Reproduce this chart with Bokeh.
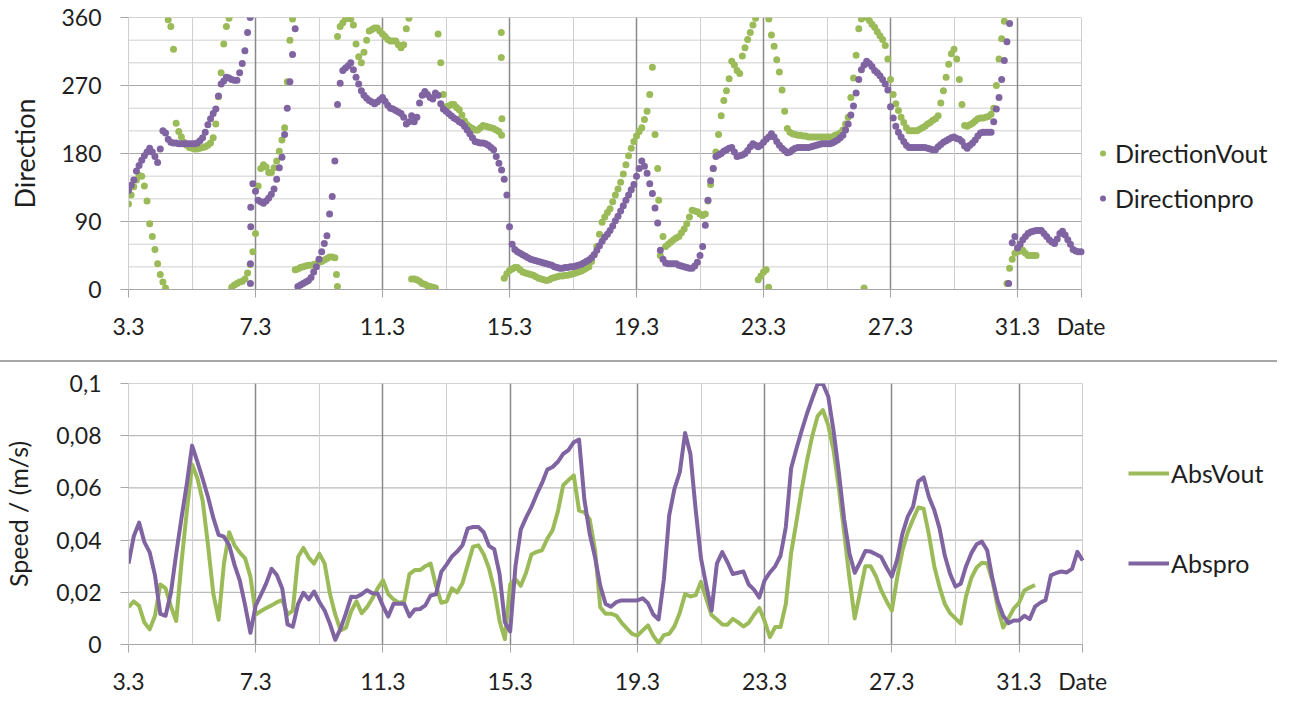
import numpy as np
from bokeh.plotting import figure
from bokeh.models import (Range1d, FixedTicker, CustomJSTickFormatter, Legend,
                          LegendItem, Div)
from bokeh.layouts import column
from bokeh.embed import file_html
from bokeh.resources import INLINE

nan = float("nan")

# ---------------- data ----------------
first_day = 3                      # 3 March
last_day = 33                      # 2 April (right edge of the plotted period)
dir_samples_per_day = 12           # direction readings every 2 h
speed_samples_per_day = 6          # speed readings every 4 h

direction_vout = [
    113, 125, 136, 145, 151, 150, 137, 117, 87, 70, 53, 34,              # 3.3
    20, 10, 2, 357, 348, 318, 220, 209, 202, 195, 191, 188,              # 4.3
    187, 186, 186, 187, 188, 189, 191, 194, 201, 219, 255, 287,          # 5.3
    325, 348, 359, 3, 6, 8, 10, 11, 14, 22, 33, 50,                      # 6.3
    74, 137, 160, 165, 162, 155, 155, 161, 170, 183, 198, 214,           # 7.3
    275, 330, 358, 26, 27, 29, 30, 31, 32, 32, 33, 34,                   # 8.3
    36, 37, 39, 41, 43, 43, 42, 335, 348, 353, 358, 360,                 # 9.3
    358, 350, 325, 308, 300, 314, 330, 342, 344, 346, 346, 342,          # 10.3
    338, 335, 331, 329, 329, 329, 324, 320, 324, 345, 359, 14,           # 11.3
    14, 13, 11, 8, 7, 5, 4, 3, 2, 338, 300, 258,                         # 12.3
    242, 243, 245, 245, 241, 238, 231, 223, 218, 215, 213, 211,          # 13.3
    211, 214, 217, 216, 215, 214, 213, 211, 209, 204, 15, 21,            # 14.3
    25, 27, 29, 29, 26, 23, 22, 21, 20, 19, 17, 15,                      # 15.3
    14, 13, 12, 13, 15, 16, 17, 18, 18, 19, 19, 20,                      # 16.3
    21, 22, 23, 24, 26, 28, 30, 37, 46, 57, 73, 89,                      # 17.3
    96, 102, 107, 116, 125, 133, 142, 153, 165, 177, 187, 196,           # 18.3
    203, 209, 214, 225, 236, 258, 294, 205, 160, 45, 70, 57,             # 19.3
    60, 63, 66, 68, 70, 75, 80, 87, 96, 105, 104, 103,                   # 20.3
    100, 98, 100, 117, 139, 160, 182, 205, 230, 250, 263, 279,           # 21.3
    302, 297, 290, 286, 309, 320, 331, 340, 350, 359, 13, 18,            # 22.3
    23, 26, 358, 337, 322, 304, 288, 264, 236, 213, 208, 206,            # 23.3
    205, 204, 204, 203, 203, 202, 202, 202, 202, 202, 202, 202,          # 24.3
    202, 202, 202, 204, 205, 207, 211, 219, 228, 254, 280, 310,          # 25.3
    345, 358, 2, 360, 356, 351, 347, 341, 336, 331, 323, 305,            # 26.3
    278, 258, 246, 237, 228, 221, 214, 210, 210, 210, 210, 212,          # 27.3
    214, 216, 219, 221, 224, 226, 230, 247, 263, 281, 298, 312,          # 28.3
    318, 305, 278, 245, 217, 216, 218, 220, 223, 226, 227, 227,          # 29.3
    228, 229, 232, 240, 270, 305, 332, 355, 8, 28, 40, 48,               # 30.3
    50, 51, 52, 48, 45, 45, 45, 45, nan, nan, nan, nan,                  # 31.3
    nan, nan, nan, nan, nan, nan, nan, nan, nan, nan, nan, nan,          # 1.4
    nan,                                                                 # 2.4
]

direction_pro = [
    131, 138, 145, 157, 164, 171, 177, 182, 187, 182, 176, 168,          # 3.3
    186, 210, 207, 199, 195, 194, 194, 193, 193, 193, 193, 193,          # 4.3
    193, 193, 194, 197, 201, 208, 218, 226, 233, 239, 256, 272,          # 5.3
    276, 281, 280, 278, 277, 277, 287, 299, 316, 340, 360, 140,          # 6.3
    130, 118, 116, 114, 117, 121, 126, 133, 146, 161, 175, 205,          # 7.3
    240, 275, 311, 345, 4, 6, 8, 10, 12, 16, 23, 30,                     # 8.3
    40, 50, 61, 71, 100, 123, 170, 245, 273, 290, 293, 296,              # 9.3
    300, 291, 281, 272, 263, 257, 253, 250, 248, 246, 248, 251,          # 10.3
    254, 249, 244, 240, 239, 237, 235, 233, 228, 219, 222, 230,          # 11.3
    222, 228, 247, 257, 262, 258, 254, 252, 260, 257, 246, 239,          # 12.3
    236, 233, 230, 227, 225, 222, 220, 216, 211, 206, 201, 196,          # 13.3
    195, 194, 194, 193, 191, 188, 185, 176, 167, 158, 146, 125,          # 14.3
    83, 60, 53, 50, 48, 46, 44, 42, 40, 39, 38, 37,                      # 15.3
    36, 35, 34, 33, 32, 30, 29, 28, 28, 29, 29, 30,                      # 16.3
    30, 31, 32, 33, 35, 37, 39, 42, 46, 52, 58, 64,                      # 17.3
    69, 73, 78, 84, 91, 97, 104, 111, 118, 125, 132, 139,                # 18.3
    150, 160, 170, 163, 154, 140, 127, 108, 88, 52, 40, 35,              # 19.3
    34, 34, 34, 34, 32, 31, 30, 29, 28, 28, 31, 36,                      # 20.3
    45, 57, 85, 118, 144, 160, 176, 178, 180, 183, 185, 187,             # 21.3
    188, 182, 176, 177, 178, 180, 184, 189, 193, 191, 189, 191,          # 22.3
    195, 199, 202, 206, 202, 196, 191, 187, 184, 181, 182, 185,          # 23.3
    187, 188, 188, 188, 188, 188, 189, 190, 191, 192, 193, 193,          # 24.3
    193, 193, 194, 196, 198, 201, 204, 211, 219, 231, 243, 260,          # 25.3
    278, 291, 297, 302, 299, 295, 290, 287, 283, 278, 272, 264,          # 26.3
    242, 227, 216, 208, 202, 196, 191, 188, 188, 188, 188, 188,          # 27.3
    188, 188, 187, 186, 185, 185, 189, 192, 195, 197, 199, 201,          # 28.3
    202, 200, 199, 196, 190, 187, 191, 194, 198, 203, 207, 208,          # 29.3
    208, 208, 208, 222, 239, 254, 278, 303, 328, 352, 62, 70,            # 30.3
    55, 60, 66, 70, 74, 76, 77, 78, 78, 78, 74, 70,                      # 31.3
    66, 63, 61, 67, 74, 77, 72, 66, 60, 53, 51, 50,                      # 1.4
    50,                                                                  # 2.4
]

# isolated readings that lie off the main tracks (day, degrees)
vout_stray_day = [9.55, 9.58, 14.74, 14.74, 14.76, 19.70, 23.16]
vout_stray_val = [20, 4, 340, 307, 226, 118, 3]
pro_stray_day = [6.84, 6.84, 6.85, 6.85, 30.72]
pro_stray_val = [8, 34, 83, 109, 8]

# speeds in mm/s (converted to m/s for plotting)
abs_vout_mms = [
    14.3, 16.5, 14.8, 8.4, 5.8, 11.0,      # 3.3
    23.0, 21.5, 14.6, 9.0, 31.5, 51.0,     # 4.3
    69.0, 63.7, 55.0, 38.0, 19.5, 9.5,     # 5.3
    31.0, 43.0, 38.0, 35.2, 33.0, 26.0,    # 6.3
    11.5, 12.8, 14.0, 15.0, 16.2, 17.0,    # 7.3
    11.5, 13.0, 33.5, 37.0, 33.3, 31.0,    # 8.3
    34.8, 31.0, 19.4, 11.5, 5.4, 6.4,      # 9.3
    12.7, 16.5, 12.0, 14.3, 17.6, 21.5,    # 10.3
    24.6, 19.3, 17.3, 16.0, 16.4, 27.0,    # 11.3
    28.5, 28.5, 30.0, 31.0, 22.5, 16.0,    # 12.3
    16.5, 21.5, 20.0, 23.5, 30.5, 37.5,    # 13.3
    38.0, 34.6, 29.2, 21.0, 9.0, 2.0,      # 14.3
    23.0, 25.0, 22.5, 27.5, 34.5, 35.5,    # 15.3
    36.1, 40.5, 43.8, 51.0, 61.0, 63.0,    # 16.3
    64.8, 51.3, 50.7, 48.0, 36.3, 14.3,    # 17.3
    11.8, 11.8, 11.1, 8.4, 6.2, 4.1,       # 18.3
    3.4, 5.4, 7.3, 3.3, 0.5, 3.6,          # 19.3
    4.1, 7.0, 12.2, 19.3, 18.4, 18.9,      # 20.3
    24.0, 17.5, 11.3, 9.6, 7.7, 7.6,       # 21.3
    9.8, 8.5, 6.9, 8.3, 11.4, 14.0,        # 22.3
    9.0, 2.8, 6.7, 6.7, 15.5, 35.0,        # 23.3
    47.0, 59.5, 70.5, 80.0, 87.5, 89.8,    # 24.3
    84.0, 74.5, 60.0, 43.0, 25.5, 10.0,    # 25.3
    20.0, 30.0, 30.0, 26.2, 20.7, 16.6,    # 26.3
    13.0, 25.5, 36.0, 43.0, 48.0, 52.5,    # 27.3
    52.0, 42.0, 30.0, 22.0, 15.5, 12.0,    # 28.3
    10.0, 8.0, 18.5, 25.5, 29.5, 31.3,     # 29.3
    31.0, 24.3, 14.0, 6.5, 10.0, 13.8,     # 30.3
    16.0, 20.7, 21.8, 22.8, nan, nan,      # 31.3
    nan, nan, nan, nan, nan, nan,          # 1.4
    nan,                                   # 2.4
]

abs_pro_mms = [
    31.0, 41.5, 46.7, 39.2, 35.3, 26.5,    # 3.3
    11.7, 11.0, 19.8, 34.8, 48.5, 61.5,    # 4.3
    76.2, 70.0, 63.4, 56.5, 48.5, 42.0,    # 5.3
    41.3, 38.0, 30.5, 24.5, 15.0, 4.5,     # 6.3
    15.0, 19.1, 23.5, 29.0, 26.5, 21.5,    # 7.3
    7.7, 6.8, 15.6, 19.8, 17.3, 20.3,      # 8.3
    16.3, 13.0, 7.9, 1.8, 6.1, 11.8,       # 9.3
    18.3, 18.2, 19.3, 20.8, 19.6, 19.5,    # 10.3
    14.8, 10.7, 15.6, 15.6, 15.6, 10.8,    # 11.3
    13.4, 13.6, 15.0, 18.8, 19.2, 27.8,    # 12.3
    30.6, 33.7, 35.6, 38.0, 44.5, 45.0,    # 13.3
    45.0, 43.0, 37.8, 36.5, 27.0, 8.5,     # 14.3
    5.0, 30.0, 44.0, 48.6, 52.6, 57.5,     # 15.3
    61.8, 67.0, 68.0, 70.0, 73.0, 74.5,    # 16.3
    77.5, 78.5, 55.5, 42.5, 33.5, 22.5,    # 17.3
    15.5, 14.5, 16.2, 16.9, 16.9, 16.9,    # 18.3
    16.9, 17.7, 15.8, 11.5, 9.6, 25.0,     # 19.3
    49.5, 59.7, 66.0, 81.0, 73.0, 51.5,    # 20.3
    33.0, 22.6, 13.0, 31.0, 35.4, 31.5,    # 21.3
    27.0, 27.5, 28.0, 23.0, 21.0, 18.0,    # 22.3
    24.6, 27.6, 30.0, 34.0, 45.0, 67.5,    # 23.3
    75.0, 82.0, 88.5, 94.3, 99.8, 99.8,    # 24.3
    95.0, 82.0, 66.0, 48.0, 35.0, 27.5,    # 25.3
    31.5, 35.8, 35.6, 34.6, 33.5, 29.5,    # 26.3
    26.0, 32.5, 42.5, 49.0, 52.8, 62.5,    # 27.3
    64.0, 56.5, 51.5, 44.5, 34.0, 27.0,    # 28.3
    22.2, 23.3, 30.0, 35.0, 38.4, 39.4,    # 29.3
    36.0, 25.0, 16.5, 11.0, 8.2, 9.2,      # 30.3
    9.2, 11.0, 9.7, 14.5, 16.0, 17.0,      # 31.3
    26.5, 27.4, 28.0, 27.6, 29.0, 35.5,    # 1.4
    32.2,                                  # 2.4
]

day_ticks = [3, 7, 11, 15, 19, 23, 27, 31]      # labelled 3.3, 7.3, ...
day_minor = [3, 5, 9, 13, 17, 21, 25, 29, 33]
dir_ticks = [0, 90, 180, 270, 360]
dir_minor = [30, 60, 120, 150, 210, 240, 300, 330]
speed_ticks = [0, 0.02, 0.04, 0.06, 0.08, 0.1]

GREEN = "#9BBB59"
PURPLE = "#8064A2"
FONT = "Lato"
TXT = "#1e1e1e"
AXIS_GRAY = "#a6a6a6"
DARK_GRID = "#8a8a8a"
MID_GRID = "#a8a8a8"
LIGHT_GRID = "#cfcfcf"

PX_PER_DAY = 955 / 30.0            # plot frame: 30 days over 955 px

t_dir = first_day + np.arange(len(direction_vout)) / dir_samples_per_day
t_spd = first_day + np.arange(len(abs_vout_mms)) / speed_samples_per_day

date_fmt = CustomJSTickFormatter(
    args=dict(end=last_day),
    code="return tick === end ? 'Date' : tick + '.3';")


def style_axes(p):
    for ax in (p.xaxis[0], p.yaxis[0]):
        ax.major_label_text_font = FONT
        ax.major_label_text_font_size = "23px"
        ax.major_label_text_color = TXT
        ax.axis_label_text_font = FONT
        ax.axis_label_text_font_style = "normal"
        ax.axis_label_text_color = TXT
        ax.major_tick_in = 0
        ax.major_tick_out = 8
        ax.major_tick_line_color = AXIS_GRAY
        ax.minor_tick_line_color = None
        ax.major_label_standoff = 19
    xa = p.xaxis[0]
    xa.axis_line_color = AXIS_GRAY
    xa.bounds = (first_day, last_day)
    xa.ticker = FixedTicker(ticks=day_ticks + [last_day])
    xa.formatter = date_fmt
    xa.major_label_standoff = 14
    p.yaxis[0].axis_line_color = LIGHT_GRID
    p.outline_line_color = None
    p.xgrid.ticker = FixedTicker(ticks=day_ticks[1:], minor_ticks=day_minor)
    p.xgrid.grid_line_color = DARK_GRID
    p.xgrid.grid_line_width = 1.5
    p.xgrid.minor_grid_line_color = LIGHT_GRID
    p.ygrid.grid_line_color = None


def hlines(p, ys, color):
    n = len(ys)
    p.segment(x0=[first_day] * n, y0=ys, x1=[last_day] * n, y1=ys,
              line_color=color, line_width=1, level="underlay")


# ---------------- top: direction ----------------
x_end1 = last_day + (1285 - 1080) / PX_PER_DAY
p1 = figure(width=1290, height=360, output_backend="svg", toolbar_location=None,
            x_range=Range1d(first_day, x_end1), y_range=Range1d(0, 360),
            min_border_left=125, min_border_right=5, min_border_top=17,
            min_border_bottom=71)
p1.yaxis.axis_label = "Direction"
p1.yaxis.axis_label_text_font_size = "27px"
p1.yaxis.axis_label_standoff = 17
p1.yaxis.ticker = FixedTicker(ticks=dir_ticks)
style_axes(p1)
hlines(p1, dir_minor, LIGHT_GRID)
hlines(p1, dir_ticks[1:], MID_GRID)

MSIZE = 7
r_g = p1.scatter(t_dir, direction_vout, size=MSIZE, fill_color=GREEN, line_color=None)
p1.scatter(vout_stray_day, vout_stray_val, size=MSIZE, fill_color=GREEN, line_color=None)
r_p = p1.scatter(t_dir, direction_pro, size=MSIZE, fill_color=PURPLE, line_color=None)
p1.scatter(pro_stray_day, pro_stray_val, size=MSIZE, fill_color=PURPLE, line_color=None)

leg1 = Legend(items=[LegendItem(label="DirectionVout", renderers=[r_g]),
                     LegendItem(label="Directionpro", renderers=[r_p])],
              location=(967, 76), orientation="vertical",
              glyph_width=15, glyph_height=30, label_height=30, spacing=15,
              label_standoff=5, padding=0, margin=0,
              border_line_color=None, background_fill_alpha=0,
              label_text_font=FONT, label_text_font_size="25px",
              label_text_color=TXT)
p1.add_layout(leg1)

# separator
sep = Div(width=1277, height=2, margin=(0, 0, 0, 0),
          styles={"background-color": "#a6a6a6"})

# ---------------- bottom: speed ----------------
x_end2 = last_day + (1285 - 1082) / PX_PER_DAY
p2 = figure(width=1290, height=344, output_backend="svg", toolbar_location=None,
            x_range=Range1d(first_day, x_end2), y_range=Range1d(0, 0.1),
            min_border_left=127, min_border_right=5, min_border_top=21,
            min_border_bottom=62)
p2.yaxis.axis_label = "Speed / (m/s)"
p2.yaxis.axis_label_text_font_size = "25px"
p2.yaxis.axis_label_standoff = 20
p2.yaxis.ticker = FixedTicker(ticks=speed_ticks)
p2.yaxis.formatter = CustomJSTickFormatter(
    code="if (tick === 0) { return '0'; } "
         "return tick.toFixed(2).replace(/0$/, '').replace('.', ',');")
style_axes(p2)
hlines(p2, speed_ticks[1:], MID_GRID)

abs_vout = [v / 1000.0 for v in abs_vout_mms]
abs_pro = [v / 1000.0 for v in abs_pro_mms]
l_g = p2.line(t_spd, abs_vout, line_width=4, line_color=GREEN, line_join="round")
l_p = p2.line(t_spd, abs_pro, line_width=4, line_color=PURPLE, line_join="round")

leg2 = Legend(items=[LegendItem(label="AbsVout", renderers=[l_g]),
                     LegendItem(label="Abspro", renderers=[l_p])],
              location=(1000, 66), orientation="vertical",
              glyph_width=41, glyph_height=30, label_height=30, spacing=60,
              label_standoff=2, padding=0, margin=0,
              border_line_color=None, background_fill_alpha=0,
              label_text_font=FONT, label_text_font_size="25px",
              label_text_color=TXT)
p2.add_layout(leg2)

layout = column(p1, sep, p2)
open("out.html", "w").write(file_html(layout, INLINE))
